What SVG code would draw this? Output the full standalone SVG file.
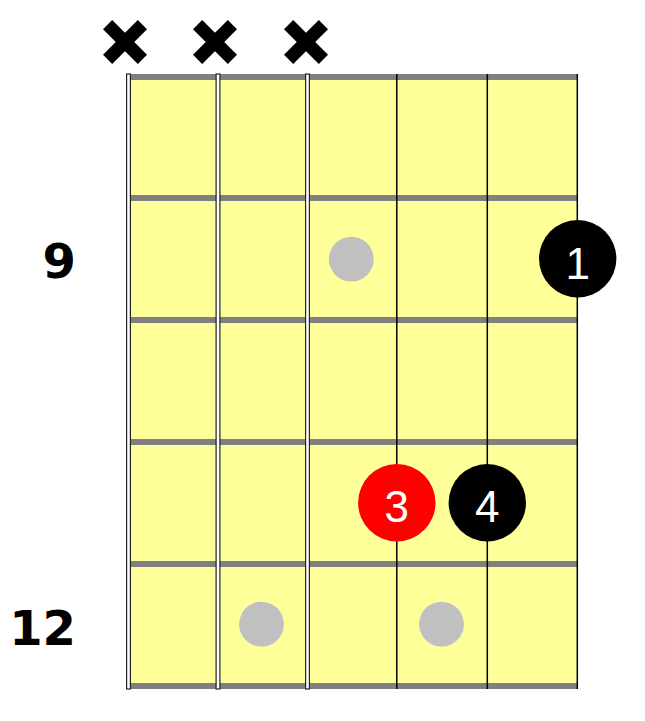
<svg xmlns="http://www.w3.org/2000/svg" width="645" height="721" viewBox="0 0 645 721">
<style>
.fret{stroke:#808080;stroke-width:6}
.thick{fill:#fff;stroke:#222;stroke-width:1.2}
.thin{stroke:#000;stroke-width:1.5}
.mute{stroke:#000;stroke-width:13;stroke-linecap:butt}
.marker{fill:#c0c0c0}
.fnum{font-family:"DejaVu Sans",Verdana,sans-serif;font-weight:bold;font-size:48px;fill:#000;text-anchor:end}
.finger{font-family:"Liberation Sans",Arial,sans-serif;font-size:44px;fill:#fff;text-anchor:middle}
</style>
<rect x="128.5" y="77" width="449" height="609" fill="#ffff99"/>
<g id="frets">
<line class="fret" x1="128.5" y1="77" x2="577.5" y2="77"/>
<line class="fret" x1="128.5" y1="198" x2="577.5" y2="198"/>
<line class="fret" x1="128.5" y1="320" x2="577.5" y2="320"/>
<line class="fret" x1="128.5" y1="442" x2="577.5" y2="442"/>
<line class="fret" x1="128.5" y1="564" x2="577.5" y2="564"/>
<line class="fret" x1="128.5" y1="686" x2="577.5" y2="686"/>
</g>
<g id="strings">
<rect class="thick" x="126.6" y="74" width="3.8" height="615"/>
<rect class="thick" x="216.1" y="74" width="3.8" height="615"/>
<rect class="thick" x="305.6" y="74" width="3.8" height="615"/>
<line class="thin" x1="396.8" y1="74" x2="396.8" y2="689"/>
<line class="thin" x1="487.3" y1="74" x2="487.3" y2="689"/>
<line class="thin" x1="577.3" y1="74" x2="577.3" y2="689"/>
</g>
<g id="mutes">
<g id="mute1"><line class="mute" x1="107.6" y1="24.6" x2="142.4" y2="59.4"/><line class="mute" x1="142.4" y1="24.6" x2="107.6" y2="59.4"/></g>
<g id="mute2"><line class="mute" x1="197.6" y1="24.6" x2="232.4" y2="59.4"/><line class="mute" x1="232.4" y1="24.6" x2="197.6" y2="59.4"/></g>
<g id="mute3"><line class="mute" x1="288.6" y1="24.6" x2="323.4" y2="59.4"/><line class="mute" x1="323.4" y1="24.6" x2="288.6" y2="59.4"/></g>
</g>
<g id="inlays">
<circle class="marker" cx="351.3" cy="259.2" r="22.4"/>
<circle class="marker" cx="261.5" cy="624.2" r="22.4"/>
<circle class="marker" cx="441.5" cy="624.2" r="22.4"/>
</g>
<g id="fret-numbers">
<text class="fnum" x="76" y="278">9</text>
<text class="fnum" x="76" y="645">12</text>
</g>
<g id="finger1"><circle cx="577.7" cy="258.7" r="38.7" fill="#000"/><text class="finger" x="577.7" y="278.7">1</text></g>
<g id="finger3"><circle cx="396.8" cy="502.7" r="38.7" fill="#ff0000"/><text class="finger" x="396.8" y="522.4">3</text></g>
<g id="finger4"><circle cx="487.3" cy="502.7" r="38.7" fill="#000"/><text class="finger" x="487.3" y="522.4">4</text></g>
</svg>
